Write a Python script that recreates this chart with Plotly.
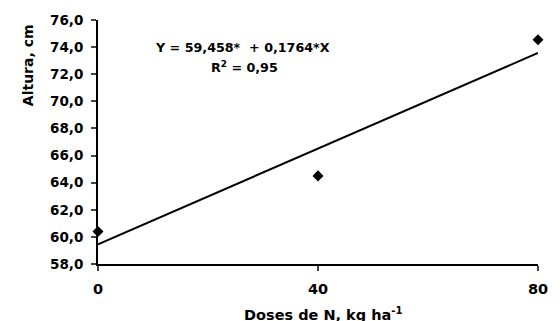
import plotly.graph_objects as go

# Data
doses = [0, 40, 80]
altura = [60.4, 64.5, 74.55]

# Regression shown in the chart
intercept = 59.458
slope = 0.1764
line_x = [0, 80]
line_y = [intercept + slope * x for x in line_x]

y_ticks = [58, 60, 62, 64, 66, 68, 70, 72, 74, 76]
y_ticktext = ["<b>" + f"{v:.1f}".replace(".", ",") + "</b>" for v in y_ticks]
x_ticks = [0, 40, 80]
x_ticktext = [f"<b>{v}</b>" for v in x_ticks]

FONT = "DejaVu Sans, Liberation Sans, Arial, sans-serif"

fig = go.Figure()
fig.add_trace(go.Scatter(x=line_x, y=line_y, mode="lines",
                         line=dict(color="black", width=2), showlegend=False))
fig.add_trace(go.Scatter(x=doses, y=altura, mode="markers",
                         marker=dict(symbol="diamond", size=8.5, color="black"),
                         showlegend=False, cliponaxis=False))

fig.update_layout(
    width=560, height=321,
    margin=dict(l=98, r=15, t=15, b=57),
    paper_bgcolor="white", plot_bgcolor="white",
    font=dict(family=FONT, color="black"),
    xaxis=dict(range=[0, 80], tickvals=x_ticks, ticktext=x_ticktext,
               ticks="outside", ticklen=5, ticklabelstandoff=6,
               ticklabeloverflow="allow",
               tickwidth=2, showline=True, linecolor="black", linewidth=2,
               showgrid=False, zeroline=False,
               tickfont=dict(size=14.5, family=FONT, color="black")),
    yaxis=dict(range=[58, 76], tickvals=y_ticks, ticktext=y_ticktext,
               ticks="outside", ticklen=5, ticklabelstandoff=5, tickwidth=2, showline=True,
               ticklabeloverflow="allow",
               linecolor="black", linewidth=2, showgrid=False, zeroline=False,
               tickfont=dict(size=13.5, family=FONT, color="black")),
    annotations=[
        dict(text="<b>Altura, cm</b>", textangle=-90, xref="paper", yref="paper",
             x=-0.159, y=0.815, showarrow=False, xanchor="center", yanchor="middle",
             font=dict(size=14, family=FONT, color="black")),
        dict(text="<b>Doses de N, kg ha<sup>-1</sup></b>", xref="paper", yref="paper",
             x=0.512, y=-0.205, showarrow=False, xanchor="center", yanchor="middle",
             font=dict(size=14.5, family=FONT, color="black")),
        dict(text="<b>Y = 59,458*&nbsp; + 0,1764*X</b>", xref="paper", yref="paper",
             x=0.329, y=0.886, showarrow=False, xanchor="center", yanchor="middle",
             font=dict(size=12.7, family=FONT, color="black")),
        dict(text="<b>R<sup>2</sup> = 0,95</b>", xref="paper", yref="paper",
             x=0.333, y=0.806, showarrow=False, xanchor="center", yanchor="middle",
             font=dict(size=12.7, family=FONT, color="black")),
    ],
)

fig.write_html("out.html", config={"displayModeBar": False},
               post_script="document.body.style.margin='0';document.body.style.overflow='hidden';")
